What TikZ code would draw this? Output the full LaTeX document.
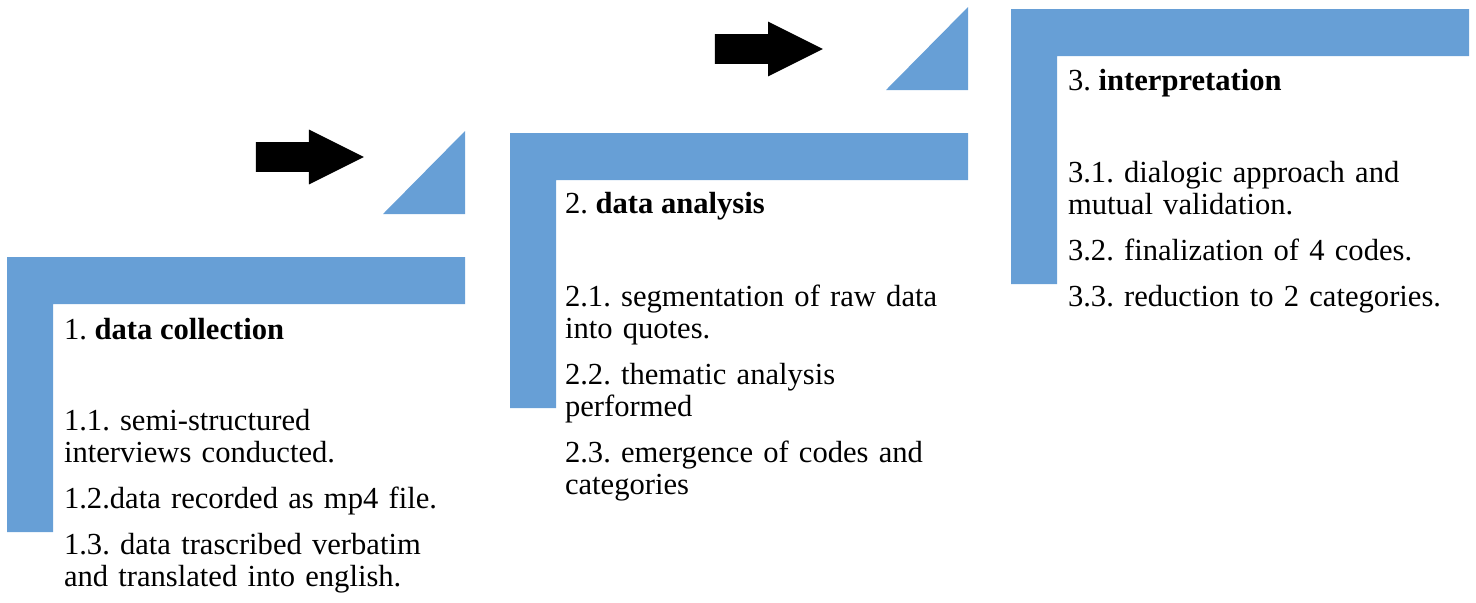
\documentclass[tikz,border=0pt]{standalone}
\usepackage{fontspec}
\setmainfont{Liberation Serif}
\usetikzlibrary{positioning, shapes.arrows, calc}
\definecolor{stepblue}{HTML}{679FD6}
\tikzset{
steptitle/.style = {%
    anchor=base west, inner sep=0pt, outer sep=0pt,
    font=\fontsize{15.3}{16}\selectfont\frenchspacing},
stepitems/.style = {%
    anchor=base west, inner sep=0pt, outer sep=0pt,
    text width=240pt, align=left,
    font=\fontsize{15.3}{16}\selectfont\frenchspacing},
blockarrow/.style = {%
    single arrow, fill=black, draw=none,
    inner xsep=0pt, inner ysep=7.25pt,
    single arrow head extend=6.25pt, single arrow tip angle=53,
    minimum height=54pt}
}

\begin{document}
\begin{tikzpicture}[x=0.5pt, y=-0.5pt]
        \useasboundingbox (0,0) rectangle (1476,602);

        % Outer corners of the three steps
        \coordinate (s1) at (7,257);
        \coordinate (s2) at (510,133);
        \coordinate (s3) at (1011,9);

        % Blue steps
        \foreach \s in {s1,s2,s3} {
            \fill[stepblue] (\s) -- ++(458,0) -- ++(0,47) -- ++(-412,0)
                -- ++(0,228) -- ++(-46,0) -- cycle;
        }

        % Blue wedges above the steps
        \foreach \s in {s1,s2} {
            \fill[stepblue] (\s) ++(458,-43) -- ++(0,-83) -- ++(-82,83) -- cycle;
        }

        % Black arrows
        \node[blockarrow] (a1) at (295,157) {};
        \node[blockarrow] (a2) at (754,49)  {};

        % Step titles
        \path (s1) ++(57,82) node[steptitle] (t1) {1. \textbf{data collection}};
        \path (s2) ++(55,80) node[steptitle] (t2) {2. \textbf{data analysis}};
        \path (s3) ++(57,81) node[steptitle] (t3) {3. \textbf{interpretation}};

        % Step items
        \path (t1.base west) ++(0,91) node[stepitems] (i1) {%
            1.1. semi-structured\\ interviews conducted.\\[7pt]
            1.2.data recorded as mp4 file.\\[7pt]
            1.3. data trascribed verbatim\\ and translated into english.};
        \path (t2.base west) ++(0,93) node[stepitems] (i2) {%
            2.1. segmentation of raw data\\ into quotes.\\[7pt]
            2.2. thematic analysis\\ performed\\[7pt]
            2.3. emergence of codes and\\ categories};
        \path (t3.base west) ++(0,92) node[stepitems] (i3) {%
            3.1. dialogic approach and\\ mutual validation.\\[7pt]
            3.2. finalization of 4 codes.\\[7pt]
            3.3. reduction to 2 categories.};

\end{tikzpicture}
\end{document}
